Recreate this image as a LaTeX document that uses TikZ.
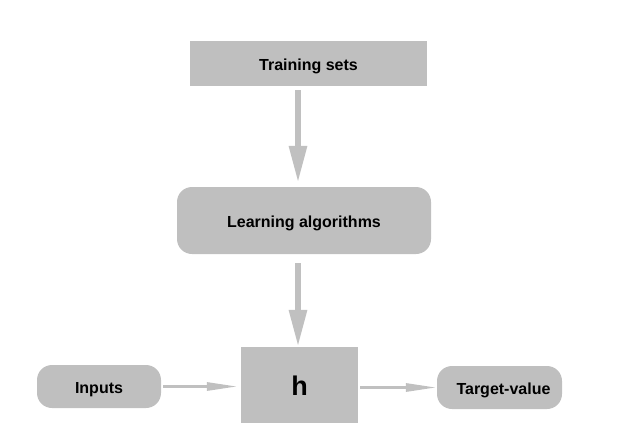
\documentclass[tikz,border=0pt]{standalone}
\usepackage{fontspec}
\setmainfont{Liberation Sans}
\usetikzlibrary{arrows.meta}
\definecolor{boxgray}{RGB}{191,191,191}
\definecolor{arrowgray}{RGB}{192,192,192}
\tikzset{
  box/.style={fill=boxgray, draw=none, font=\bfseries\fontsize{16}{19}\selectfont, inner sep=0pt, text height=14.5pt, text depth=0pt},
  roundbox/.style={box, rounded corners=15pt},
  bigarrow/.style={draw=arrowgray, line width=6pt, -{Triangle[length=37pt,width=17pt]}},
  smallarrow/.style={draw=arrowgray, line width=3pt, -{Triangle[length=31pt,width=8pt]}}
}
\begin{document}
\begin{tikzpicture}[x=1pt,y=-1pt]
\useasboundingbox (0,0) rectangle (619,442);
\node[box, minimum width=237pt, minimum height=45pt] (train) at (308.5,63.5) {Training sets};
\node[roundbox, minimum width=254pt, minimum height=67pt] (learn) at (304,220.5) {Learning algorithms};
\node[box, minimum width=117pt, minimum height=76pt, font=\bfseries\fontsize{27}{30}\selectfont, text height=21.5pt] (h) at (299.5,385) {h};
\node[roundbox, minimum width=124pt, minimum height=43pt] (inputs) at (99,386.5) {Inputs\hspace{6pt}};
\node[roundbox, minimum width=125pt, minimum height=43pt] (target) at (499.5,387.5) {\hspace{8pt}Target-value};
\draw[bigarrow, shorten <=4pt, shorten >=4pt] ([xshift=-10.5pt]train.south) -- ([xshift=-6pt]learn.north);
\draw[bigarrow, shorten <=9pt] ([xshift=-6pt]learn.south) -- ([xshift=-1.5pt]h.north);
\draw[smallarrow, shorten <=2pt, shorten >=3pt] (inputs.east) -- (inputs.east -| h.west);
\draw[smallarrow, shorten <=2pt] (target.west -| h.east) -- (target.west);
\end{tikzpicture}
\end{document}
